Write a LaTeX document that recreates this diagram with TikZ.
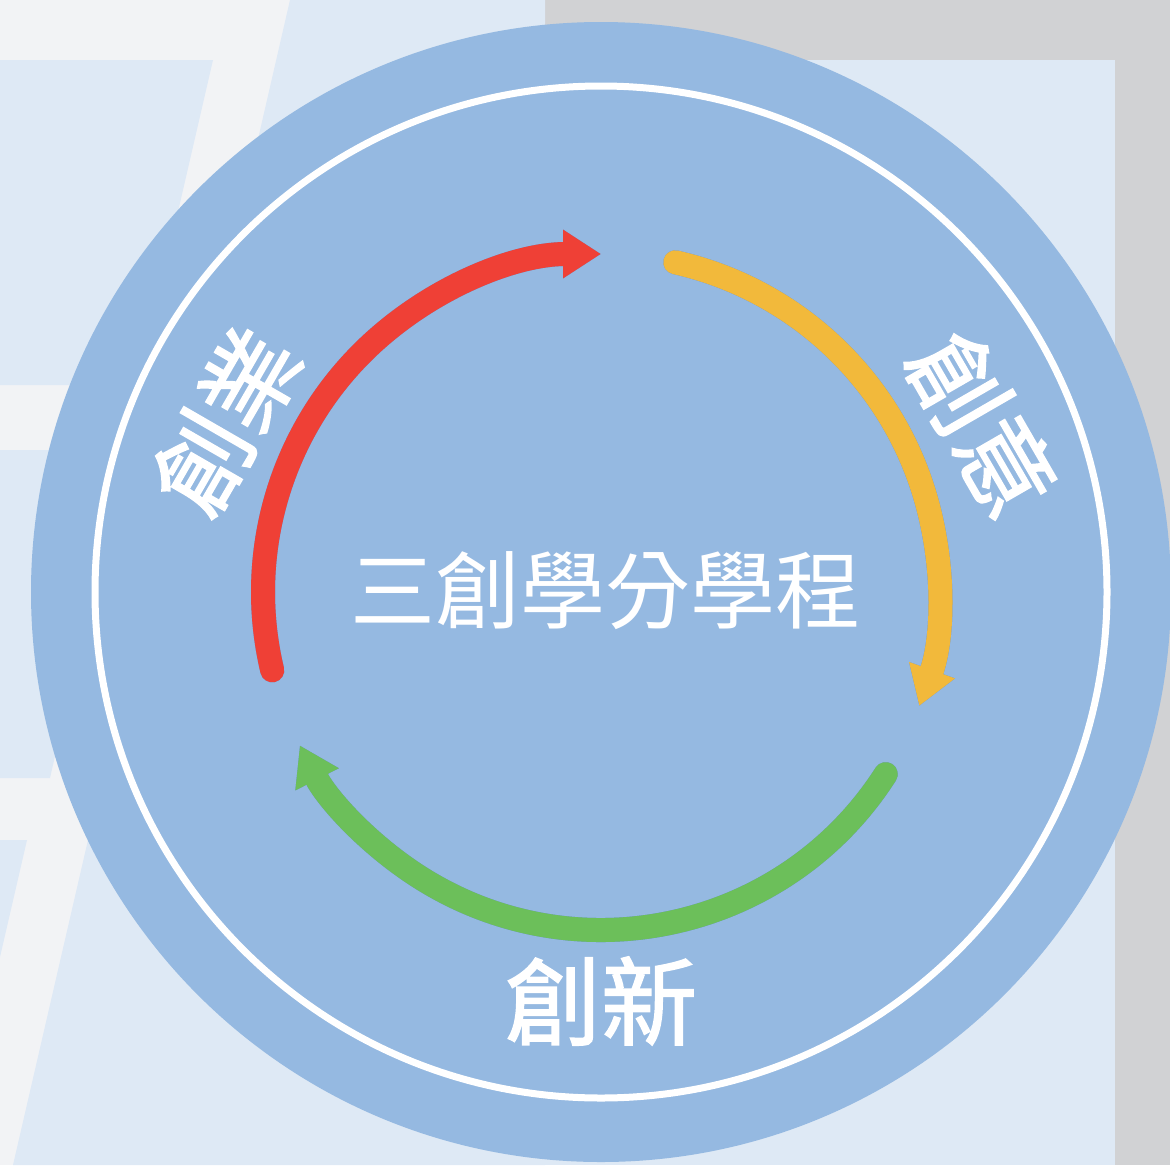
\documentclass[tikz,border=0pt]{standalone}
\usepackage{fontspec}
\setmainfont{Noto Sans CJK TC}
\newfontfamily\stagefont[FakeBold=1.6]{Noto Sans CJK TC}
\usetikzlibrary{arrows.meta}

\definecolor{ringblue}{RGB}{149,185,225}
\definecolor{paleblue}{RGB}{222,233,245}
\definecolor{paper}{RGB}{242,243,245}
\definecolor{wallgray}{RGB}{209,210,212}
\definecolor{shadowblue}{RGB}{110,152,210}
\definecolor{softshadow}{RGB}{128,168,218}
\definecolor{redarc}{RGB}{239,64,54}
\definecolor{orangearc}{RGB}{242,185,59}
\definecolor{greenarc}{RGB}{108,191,90}

\begin{document}
\begin{tikzpicture}[x=1pt,y=-1pt,
    cyclearrow/.style={line width=24pt,line cap=round,-{Triangle[length=38pt,width=46pt]}},
    stagetext/.style={text=white,inner sep=0pt,font=\stagefont\fontsize{96}{100}\selectfont}]
  \useasboundingbox (0,0) rectangle (1170,1165);

  % backdrop
  \fill[paper] (0,0) rectangle (1170,1165);
  \fill[wallgray] (545,0) rectangle (1170,1165);
  \fill[paleblue] (545,60) rectangle (1115,1165);
  \fill[paleblue] (290,0) -- (545,0) -- (545,700) -- (129,700) -- cycle;
  \fill[paleblue] (0,60) -- (213,60) -- (138,385) -- (0,385) -- cycle;
  \fill[paleblue] (0,450) -- (125,450) -- (50,778) -- (0,778) -- cycle;
  \fill[paleblue] (0,840) -- (27,840) -- (0,957) -- cycle;
  \fill[paleblue] (88,840) -- (545,840) -- (545,1165) -- (13,1165) -- cycle;

  % disc and ring
  \coordinate (hub) at (601,592);
  \fill[ringblue] (hub) circle[radius=570];
  \draw[white,line width=7pt] (hub) circle[radius=506];

  % the three arrows
  \foreach \col/\from/\to in {redarc/166.6/270, orangearc/-77.3/19.7, greenarc/32.6/153}{
    \path (hub) ++(\from:338) coordinate (start-\col);
    \draw[cyclearrow,softshadow,shift={(6,6)}] (start-\col) arc[start angle=\from,end angle=\to,radius=338];
    \draw[cyclearrow,shadowblue,shift={(3,3)}] (start-\col) arc[start angle=\from,end angle=\to,radius=338];
    \draw[cyclearrow,\col] (start-\col) arc[start angle=\from,end angle=\to,radius=338];
  }

  \node[text=white,inner sep=0pt,font=\fontsize{85}{90}\selectfont] (title) at (605,591) {三創學分學程};
  \node[stagetext] (innovate) at (601,1001) {創新};
  \node[stagetext,rotate=-60] (idea) at (983,424) {創意};
  \node[stagetext,rotate=60] (venture) at (226,421) {創業};
\end{tikzpicture}
\end{document}
